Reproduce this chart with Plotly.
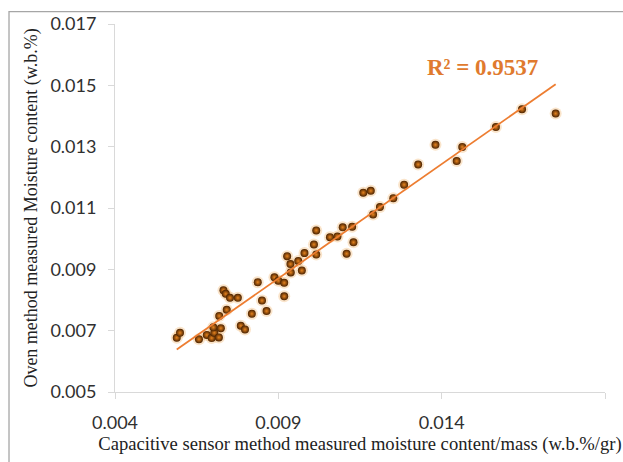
import numpy as np
import plotly.graph_objects as go

# Capacitive sensor method measured moisture content/mass (x) vs oven method moisture content (y)
sensor_mc = [0.00589, 0.00599, 0.00657, 0.00681, 0.00696, 0.00704, 0.00701, 0.00718, 0.00724, 0.00719,
             0.00742, 0.00732, 0.00739, 0.00752, 0.00776, 0.00785, 0.00798, 0.00819, 0.00837, 0.00850,
             0.00864, 0.00888, 0.00900, 0.00918, 0.00918, 0.00938, 0.00937, 0.00927, 0.00961, 0.00972,
             0.00980, 0.01016, 0.01009, 0.01016, 0.01058, 0.01081, 0.01097, 0.01126, 0.01109, 0.01130,
             0.01190, 0.01211, 0.01252, 0.01160, 0.01183, 0.01285, 0.01328, 0.01381, 0.01463, 0.01446,
             0.01566, 0.01646, 0.01749]
oven_mc = [0.00677, 0.00693, 0.00672, 0.00686, 0.00676, 0.00693, 0.00711, 0.00678, 0.00708, 0.00748,
           0.00768, 0.00832, 0.00820, 0.00807, 0.00807, 0.00716, 0.00704, 0.00755, 0.00858, 0.00798,
           0.00764, 0.00874, 0.00863, 0.00856, 0.00812, 0.00890, 0.00917, 0.00943, 0.00927, 0.00896,
           0.00953, 0.00948, 0.00981, 0.01027, 0.01005, 0.01007, 0.01037, 0.01039, 0.00951, 0.00988,
           0.01079, 0.01103, 0.01132, 0.01150, 0.01156, 0.01176, 0.01242, 0.01306, 0.01299, 0.01253,
           0.01364, 0.01422, 0.01408]
x_ticks = [0.004, 0.009, 0.014, 0.019]
y_ticks = [0.005, 0.007, 0.009, 0.011, 0.013, 0.015, 0.017]
r2_label = "R² = 0.9537"

# linear trendline from data
slope, intercept = np.polyfit(sensor_mc, oven_mc, 1)
tx = np.array([min(sensor_mc), max(sensor_mc)])
ty = slope * tx + intercept

fig = go.Figure()
fig.add_trace(go.Scatter(x=sensor_mc, y=oven_mc, mode="markers", hoverinfo="skip",
                         marker=dict(size=12, color="rgba(240,165,80,0.30)", line=dict(width=0)),
                         showlegend=False))
fig.add_trace(go.Scatter(x=sensor_mc, y=oven_mc, mode="markers",
                         marker=dict(size=8, color="#4A2200", line=dict(width=0),
                                     gradient=dict(type="radial", color="#E8841E")),
                         showlegend=False))
fig.add_trace(go.Scatter(x=tx, y=ty, mode="lines", line=dict(color="#ED7D31", width=1.8),
                         showlegend=False))

tickfont = dict(family="Lato, Open Sans, sans-serif", size=18, color="#303030")
serif = "Liberation Serif, Times New Roman, serif"

fig.update_layout(
    width=623, height=462,
    margin=dict(l=115, r=18, t=21, b=66),
    paper_bgcolor="white", plot_bgcolor="white",
    xaxis=dict(range=[0.004, 0.019], tickvals=x_ticks, ticktext=[f"{v:.3f}" for v in x_ticks],
               showgrid=False, zeroline=False, showline=True, linecolor="#D9D9D9", linewidth=1,
               ticks="outside", ticklen=6, tickcolor="#D9D9D9", tickfont=tickfont,
               ticklabelstandoff=8,
               title=dict(text="Capacitive sensor method measured moisture content/mass (w.b.%/gr)",
                          font=dict(family=serif, size=18.6, color="#222222"), standoff=4)),
    yaxis=dict(range=[0.005, 0.017], tickvals=y_ticks, ticktext=[f"{v:.3f}" for v in y_ticks],
               showgrid=False, zeroline=False, showline=True, linecolor="#D9D9D9", linewidth=1,
               ticks="outside", ticklen=6, tickcolor="#D9D9D9", tickfont=tickfont,
               ticklabelstandoff=8,
               title=dict(text="Oven method measured Moisture content (w.b.%)",
                          font=dict(family=serif, size=18, color="#222222"), standoff=8)),
    annotations=[dict(text=f"<b>{r2_label}</b>", xref="paper", yref="paper", x=0.751, y=0.882,
                      showarrow=False, xanchor="center", yanchor="middle",
                      font=dict(family=serif, size=23, color="#E07A2E"))],
    shapes=[dict(type="path", xref="paper", yref="paper",
                 path="M -0.2163,-0.3 L -0.2163,1.0338 L 1.2,1.0338",
                 line=dict(color="#A6A6A6", width=1.3))],
)

fig.write_html("out.html")
